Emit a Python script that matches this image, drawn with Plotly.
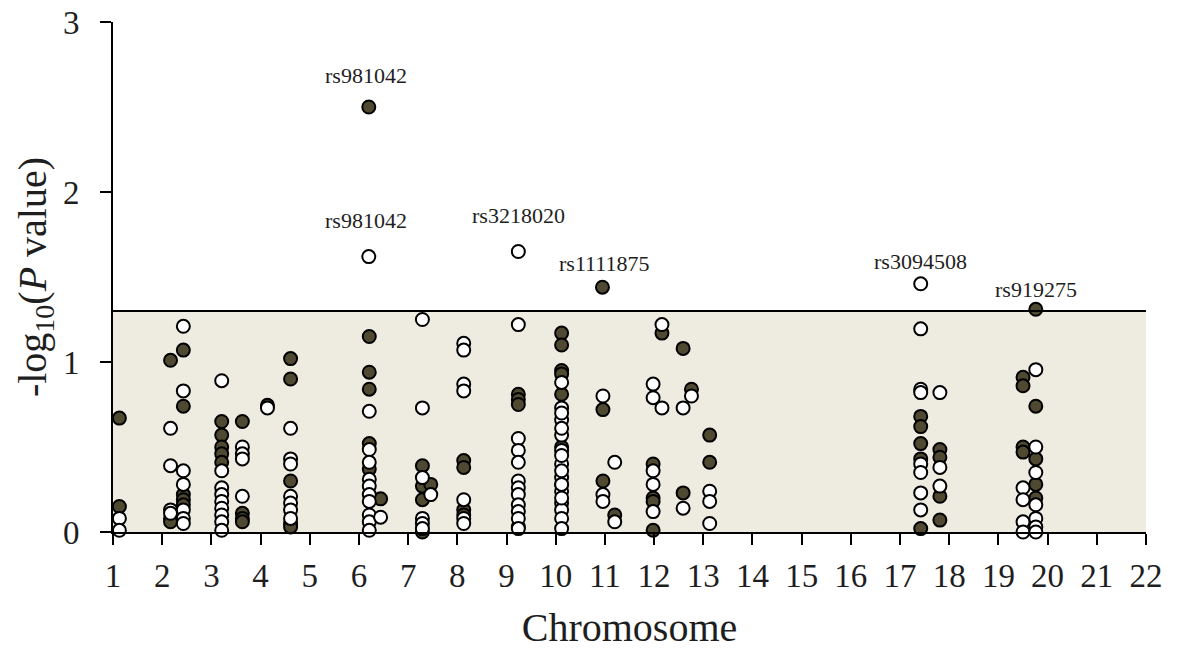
import plotly.graph_objects as go

# ---- data: chromosome position (continuous) and -log10(P) ----
filled_x = [1.13, 1.13,
            2.17, 2.17, 2.17, 2.43, 2.43, 2.43, 2.43, 2.43,
            3.21, 3.21, 3.21, 3.21, 3.21, 3.63, 3.63, 3.63, 3.63,
            4.14,
            4.61, 4.61, 4.61, 4.61, 4.61,
            6.20, 6.21, 6.21, 6.21, 6.21, 6.21, 6.44,
            7.29, 7.29, 7.29, 7.29, 7.46,
            8.13, 8.13, 8.13, 8.13,
            9.24, 9.24, 9.24, 9.24,
            10.12, 10.12, 10.12, 10.12, 10.12, 10.12, 10.12,
            10.95, 10.96, 10.96, 11.20,
            11.98, 11.98, 11.98, 11.98, 12.16, 12.59, 12.59, 12.76,
            13.13, 13.13,
            17.42, 17.42, 17.42, 17.42, 17.42, 17.81, 17.81, 17.81, 17.81,
            19.50, 19.50, 19.50, 19.50, 19.76, 19.76, 19.76, 19.76, 19.76]
filled_y = [0.67, 0.15,
            1.01, 0.08, 0.06, 1.07, 0.74, 0.22, 0.19, 0.16,
            0.65, 0.57, 0.50, 0.46, 0.41, 0.65, 0.11, 0.08, 0.06,
            0.745,
            1.02, 0.90, 0.30, 0.05, 0.03,
            2.50, 1.15, 0.94, 0.84, 0.52, 0.37, 0.195,
            0.39, 0.27, 0.19, 0.00, 0.28,
            0.42, 0.38, 0.13, 0.10,
            0.81, 0.78, 0.75, 0.03,
            1.17, 1.10, 0.95, 0.93, 0.81, 0.50, 0.28,
            1.44, 0.72, 0.30, 0.10,
            0.40, 0.20, 0.18, 0.01, 1.17, 1.08, 0.23, 0.84,
            0.57, 0.41,
            0.68, 0.62, 0.52, 0.43, 0.02, 0.485, 0.44, 0.21, 0.07,
            0.91, 0.86, 0.50, 0.47, 1.31, 0.74, 0.43, 0.28, 0.20]

open_x = [1.13, 1.13,
          2.17, 2.17, 2.17, 2.17, 2.43, 2.43, 2.43, 2.43, 2.43, 2.43, 2.43,
          3.21, 3.21, 3.21, 3.21, 3.21, 3.21, 3.21, 3.21, 3.21, 3.63, 3.63, 3.63, 3.63,
          4.14,
          4.61, 4.61, 4.61, 4.61, 4.61, 4.61, 4.61,
          6.20, 6.21, 6.21, 6.21, 6.21, 6.21, 6.21, 6.21, 6.21, 6.21, 6.21, 6.44,
          7.29, 7.29, 7.29, 7.29, 7.29, 7.29, 7.46,
          8.13, 8.13, 8.13, 8.13, 8.13, 8.13, 8.13,
          9.24, 9.24, 9.24, 9.24, 9.24, 9.24, 9.24, 9.24, 9.24, 9.24, 9.24, 9.24,
          10.12, 10.12, 10.12, 10.12, 10.12, 10.12, 10.12, 10.12, 10.12, 10.12, 10.12, 10.12,
          10.12, 10.12, 10.12, 10.12, 10.12, 10.12,
          10.96, 10.96, 10.96, 11.20, 11.20,
          11.98, 11.98, 11.98, 11.98, 11.98, 12.16, 12.16, 12.59, 12.59, 12.76,
          13.13, 13.13, 13.13,
          17.42, 17.42, 17.42, 17.42, 17.42, 17.42, 17.42, 17.42, 17.81, 17.81, 17.81,
          19.50, 19.50, 19.50, 19.50, 19.76, 19.76, 19.76, 19.76, 19.76, 19.76, 19.76]
open_y = [0.08, 0.01,
          0.61, 0.39, 0.13, 0.11, 1.21, 0.83, 0.36, 0.28, 0.13, 0.08, 0.05,
          0.89, 0.36, 0.26, 0.22, 0.18, 0.14, 0.10, 0.06, 0.01, 0.50, 0.46, 0.43, 0.21,
          0.73,
          0.61, 0.43, 0.40, 0.21, 0.17, 0.13, 0.08,
          1.62, 0.71, 0.485, 0.41, 0.31, 0.27, 0.22, 0.18, 0.10, 0.06, 0.01, 0.087,
          1.25, 0.73, 0.32, 0.08, 0.05, 0.02, 0.22,
          1.11, 1.07, 0.87, 0.83, 0.19, 0.08, 0.05,
          1.65, 1.22, 0.55, 0.48, 0.41, 0.30, 0.26, 0.22, 0.16, 0.12, 0.08, 0.02,
          0.88, 0.73, 0.66, 0.57, 0.48, 0.40, 0.32, 0.24, 0.17, 0.13, 0.08, 0.02,
          0.70, 0.61, 0.45, 0.36, 0.28, 0.20,
          0.80, 0.22, 0.18, 0.41, 0.06,
          0.87, 0.79, 0.36, 0.28, 0.12, 1.22, 0.73, 0.73, 0.14, 0.80,
          0.24, 0.18, 0.05,
          1.46, 1.195, 0.84, 0.82, 0.40, 0.35, 0.23, 0.13, 0.82, 0.38, 0.27,
          0.26, 0.19, 0.06, 0.00, 0.955, 0.50, 0.35, 0.16, 0.08, 0.03, 0.00]

# labelled SNPs
snp_names = ["rs981042", "rs981042", "rs3218020", "rs1111875", "rs3094508", "rs919275"]
snp_x = [6.20, 6.20, 9.24, 10.95, 17.42, 19.76]
snp_y = [2.50, 1.62, 1.65, 1.44, 1.46, 1.31]

threshold = 1.3
chromosomes = list(range(1, 23))
y_ticks = [0, 1, 2, 3]

# ---- styles ----
FILL = "#4e4930"
SHADE = "#eeebe1"
FONT = "Liberation Serif"
TXT = "#1e1e1e"
label_shift = [32, 36, 36, 24, 22, 20]
label_xshift = [-3, -3, 0, 2, 0, 0]

fig = go.Figure()

fig.add_shape(type="rect", x0=1, x1=22, y0=0, y1=threshold, xref="x", yref="y",
              fillcolor=SHADE, line_width=0, layer="below")
fig.add_shape(type="line", x0=1, x1=22, y0=threshold, y1=threshold, xref="x", yref="y",
              line=dict(color="black", width=2))

marker_common = dict(size=13, line=dict(color="black", width=2))
fig.add_trace(go.Scatter(x=filled_x, y=filled_y, mode="markers",
                         marker=dict(color=FILL, **marker_common), showlegend=False,
                         cliponaxis=False))
fig.add_trace(go.Scatter(x=open_x, y=open_y, mode="markers",
                         marker=dict(color="white", **marker_common), showlegend=False,
                         cliponaxis=False))

for name, x, y, s, xs in zip(snp_names, snp_x, snp_y, label_shift, label_xshift):
    fig.add_annotation(x=x, y=y, text=name, showarrow=False, yshift=s, xshift=xs,
                       font=dict(family=FONT, size=22, color=TXT))

fig.update_xaxes(range=[1, 22], tickvals=chromosomes, ticktext=[str(c) for c in chromosomes],
                 showline=True, linecolor="black", linewidth=2, ticks="outside",
                 ticklen=11, tickwidth=2, tickcolor="black", showgrid=False, zeroline=False,
                 automargin=False, ticklabeloverflow="allow",
                 tickfont=dict(family=FONT, size=33, color=TXT), ticklabelstandoff=2,
                 title=dict(text="Chromosome", font=dict(family=FONT, size=40, color=TXT),
                            standoff=22))
fig.update_yaxes(range=[0, 3], tickvals=y_ticks, showline=True, linecolor="black", linewidth=2,
                 ticks="outside", ticklen=11, tickwidth=2, tickcolor="black", showgrid=False,
                 zeroline=False, automargin=False, ticklabeloverflow="allow",
                 tickfont=dict(family=FONT, size=33, color=TXT), ticklabelstandoff=14,
                 title=dict(text="-log<sub>10</sub>(<i>P</i> value)",
                            font=dict(family=FONT, size=40, color=TXT), standoff=4))

fig.update_layout(width=1179, height=650, plot_bgcolor="white", paper_bgcolor="white",
                  margin=dict(l=113, r=33, t=22, b=118))

fig.write_html("out.html", config={"displayModeBar": False},
               post_script="document.body.style.margin='0px';")
